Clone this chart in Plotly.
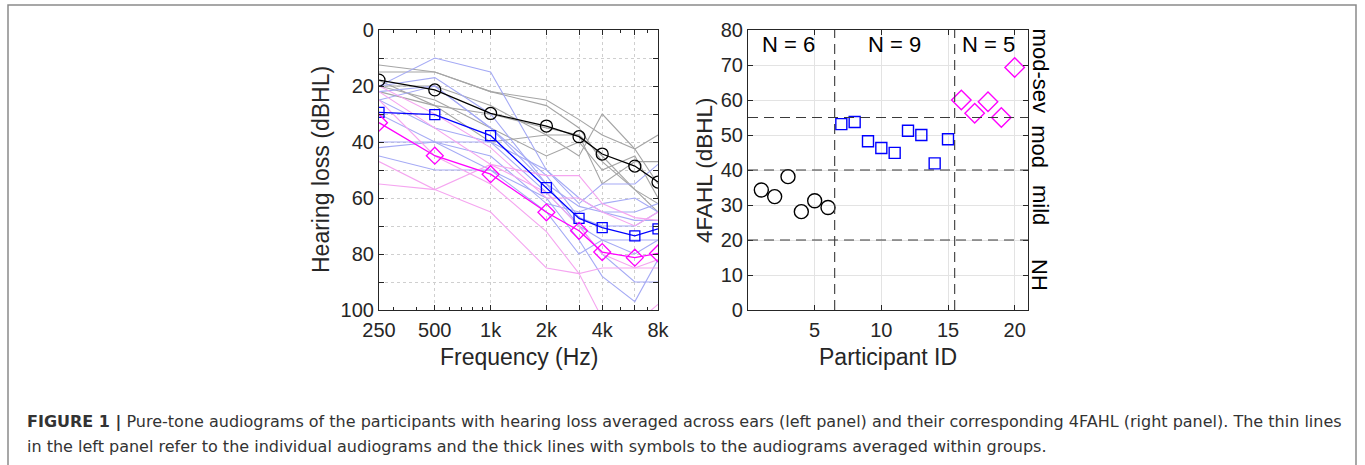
import plotly.graph_objects as go

W, H = 1365, 465

# ---------------- data ----------------
freqs = [250, 500, 1000, 2000, 3000, 4000, 6000, 8000]
freq_tick_vals = [250, 500, 1000, 2000, 3000, 4000, 6000, 8000]
freq_tick_text = ["250", "500", "1k", "2k", "", "4k", "", "8k"]
freq_minor = [300, 400, 600, 700, 800, 900, 5000, 7000]

# individual audiograms (dB HL), per group
gray_lines = [
    [12.5, 15, 22, 27, 35, 47, 57, 65],
    [15, 15, 22, 25, 32, 37.5, 42.5, 55],
    [20, 20, 27, 37.5, 45, 30, 42.5, 37.5],
    [20, 25, 35, 45, 40, 50, 45, 60],
    [18, 27, 30, 35, 37.5, 45, 57, 62],
    [22, 27, 40, 37.5, 37.5, 55, 47, 47],
]
blue_lines = [
    [20, 10, 15, 50, 62, 55, 55, 48],
    [20, 17, 30, 55, 63, 65, 65, 62],
    [22, 20, 35, 52, 67, 70, 70, 65],
    [25, 20, 35, 55, 70, 75, 80, 75],
    [25, 35, 40, 50, 60, 65, 68, 68],
    [30, 40, 40, 58, 70, 80, 90, 90],
    [40, 40, 50, 60, 75, 88, 97, 82],
    [42, 40, 45, 62, 65, 62, 60, 65],
    [45, 50, 50, 65, 80, 75, 75, 75],
]
pink_lines = [
    [20, 30, 42, 60, 60, 65, 70, 65],
    [22, 35, 48, 52, 52, 62, 67, 68],
    [25, 45, 55, 72, 87, 85, 85, 85],
    [47, 57, 48, 58, 70, 80, 85, 82],
    [55, 57, 65, 85, 87, 103, 105, 98],
]
# group means
mean_mild = [17.9, 21.4, 29.8, 34.3, 38.1, 44.3, 48.6, 54.3]
mean_mod = [29.4, 30.2, 37.7, 56.3, 67.3, 70.6, 73.5, 71.0]
mean_sev = [33.1, 44.9, 51.5, 65.1, 71.7, 79.3, 81.3, 79.8]

# 4FAHL per participant
ids_mild = [1, 2, 3, 4, 5, 6]
fahl_mild = [34.3, 32.4, 38.1, 28.1, 31.2, 29.3]
ids_mod = [7, 8, 9, 10, 11, 12, 13, 14, 15]
fahl_mod = [53.1, 53.7, 48.2, 46.3, 44.9, 51.2, 50.0, 41.9, 48.8]
ids_sev = [16, 17, 18, 19, 20]
fahl_sev = [60.0, 56.2, 59.5, 55.0, 69.3]

category_bounds = [20, 40, 55]
group_bounds = [6.5, 15.5]
category_labels = ["NH", "mild", "mod", "mod-sev"]
category_centers = [10, 30, 46.8, 68.4]
group_labels = ["N = 6", "N = 9", "N = 5"]
group_label_x = [3.05, 11.0, 18.0]

caption_1 = ("<b>FIGURE 1 |</b> Pure-tone audiograms of the participants with hearing loss averaged across "
             "ears (left panel) and their corresponding 4FAHL (right panel). The thin lines")
caption_2 = ("in the left panel refer to the individual audiograms and the thick lines with symbols to the "
             "audiograms averaged within groups.")

# ---------------- styling ----------------
FONT = "Liberation Sans, Arial, Helvetica, sans-serif"
CAP_FONT = "DejaVu Sans, sans-serif"
TXT = "#262626"
AX = "#262626"


def px(x):
    return x / W


def py(y):
    return 1 - y / H


fig = go.Figure()

# thin individual lines
for lines, col in [(gray_lines, "rgb(165,165,165)"),
                   (blue_lines, "rgb(165,170,245)"),
                   (pink_lines, "rgb(245,165,240)")]:
    for ln in lines:
        fig.add_trace(go.Scatter(x=freqs, y=ln, mode="lines", line=dict(color=col, width=1.1),
                                 xaxis="x", yaxis="y", showlegend=False, hoverinfo="skip"))

# group means
for m, col, sym, sz in [(mean_mild, "#000000", "circle-open", 12),
                        (mean_mod, "#0000ff", "square-open", 10),
                        (mean_sev, "#ff00ff", "diamond-open", 13)]:
    fig.add_trace(go.Scatter(x=freqs, y=m, mode="lines+markers",
                             line=dict(color=col, width=1.3),
                             marker=dict(symbol=sym, size=sz, color=col, line=dict(width=1.3, color=col)),
                             xaxis="x", yaxis="y", showlegend=False))

# right panel
for ids, vals, col, sym, sz in [(ids_mild, fahl_mild, "#000000", "circle-open", 14),
                                (ids_mod, fahl_mod, "#0000ff", "square-open", 11),
                                (ids_sev, fahl_sev, "#ff00ff", "diamond-open", 15)]:
    fig.add_trace(go.Scatter(x=ids, y=vals, mode="markers",
                             marker=dict(symbol=sym, size=sz, color=col, line=dict(width=1.4, color=col)),
                             xaxis="x2", yaxis="y2", showlegend=False))

L_x0, L_x1 = 379, 658
R_x0, R_x1 = 748, 1028
Y0, Y1 = 30, 310

tickfont = dict(family=FONT, size=20, color=TXT)

fig.update_layout(
    width=W, height=H, margin=dict(l=0, r=0, t=0, b=0, autoexpand=False),
    showlegend=False,
    paper_bgcolor="white", plot_bgcolor="white",
    font=dict(family=FONT, color=TXT),
    xaxis=dict(domain=[px(L_x0), px(L_x1)], type="log", range=[2.39794, 3.90309],
               tickmode="array", tickvals=freq_tick_vals, ticktext=freq_tick_text,
               ticks="inside", ticklen=5, tickcolor=AX, tickwidth=1,
               minor=dict(tickmode="array", tickvals=freq_minor, ticks="inside", ticklen=3,
                          tickcolor=AX, showgrid=False),
               showgrid=True, gridcolor="#cfcfcf", griddash="dot", gridwidth=1,
               showline=True, linecolor=AX, linewidth=1.2, mirror="ticks",
               tickfont=tickfont, zeroline=False, anchor="y", automargin=False,
               ticklabelstandoff=2),
    yaxis=dict(domain=[py(Y1), py(Y0)], range=[100, 0],
               tickmode="array", tickvals=list(range(0, 101, 10)),
               ticktext=[str(v) if v % 20 == 0 else "" for v in range(0, 101, 10)],
               ticks="inside", ticklen=5, tickcolor=AX,
               showgrid=True, gridcolor="#cfcfcf", griddash="dot", gridwidth=1,
               showline=True, linecolor=AX, linewidth=1.2, mirror="ticks",
               tickfont=tickfont, zeroline=False, anchor="x", automargin=False),
    xaxis2=dict(domain=[px(R_x0), px(R_x1)], range=[0, 21],
                tickmode="array", tickvals=[5, 10, 15, 20],
                ticks="inside", ticklen=5, tickcolor=AX,
                showgrid=True, gridcolor="#e3e3e3", gridwidth=1.2,
                showline=True, linecolor=AX, linewidth=1.2, mirror="ticks",
                tickfont=tickfont, zeroline=False, anchor="y2", automargin=False,
                ticklabelstandoff=2),
    yaxis2=dict(domain=[py(Y1), py(Y0)], range=[0, 80],
                tickmode="array", tickvals=list(range(0, 81, 10)),
                ticks="inside", ticklen=5, tickcolor=AX,
                showgrid=True, gridcolor="#e3e3e3", gridwidth=1.2,
                showline=True, linecolor=AX, linewidth=1.2, mirror="ticks",
                tickfont=tickfont, zeroline=False, anchor="x2", automargin=False),
)

shapes = []
for b in category_bounds:
    shapes.append(dict(type="line", xref="x2 domain", yref="y2", x0=0, x1=1, y0=b, y1=b,
                       line=dict(color="#3a3a3a", width=1.1, dash="10px,6px"), layer="above"))
for b in group_bounds:
    shapes.append(dict(type="line", xref="x2", yref="y2 domain", x0=b, x1=b, y0=0, y1=1,
                       line=dict(color="#3a3a3a", width=1.1, dash="10px,6px"), layer="above"))
# outer frame of the figure page
shapes.append(dict(type="rect", xref="paper", yref="paper", x0=px(8), x1=px(1356), y0=py(H + 10), y1=py(5),
                   line=dict(color="#8a8a8a", width=1.5), fillcolor="rgba(0,0,0,0)", layer="below"))
fig.update_layout(shapes=shapes)

ann = []


def label(text, x, y, angle=0, xref="paper", yref="paper", color=TXT, size=20, family=FONT,
          xanchor="center", yanchor="middle"):
    ann.append(dict(text=text, xref=xref, yref=yref, x=x, y=y, textangle=angle, showarrow=False,
                    xanchor=xanchor, yanchor=yanchor,
                    font=dict(family=family, size=size, color=color)))


label("Hearing loss (dBHL)", px(321), py(170), angle=-90, size=23)
label("Frequency (Hz)", px(518.5), py(357), size=23)
label("4FAHL (dBHL)", px(705), py(171), angle=-90, size=22.5)
label("Participant ID", px(888), py(357), size=23)
for t, xv in zip(group_labels, group_label_x):
    label(t, xv, 75.8, xref="x2", yref="y2", color="#000000", size=22)
for t, yv in zip(category_labels, category_centers):
    label(t, px(1040), yv, angle=90, yref="y2", color="#000000", size=22)
label(caption_1, px(25), py(422), family=CAP_FONT, size=16, color="#333333", xanchor="left")
label(caption_2, px(25), py(446), family=CAP_FONT, size=16, color="#333333", xanchor="left")
fig.update_layout(annotations=ann)

fig.write_html("out.html", config={"displayModeBar": False},
               post_script="document.body.style.margin='0';document.body.style.padding='0';")
